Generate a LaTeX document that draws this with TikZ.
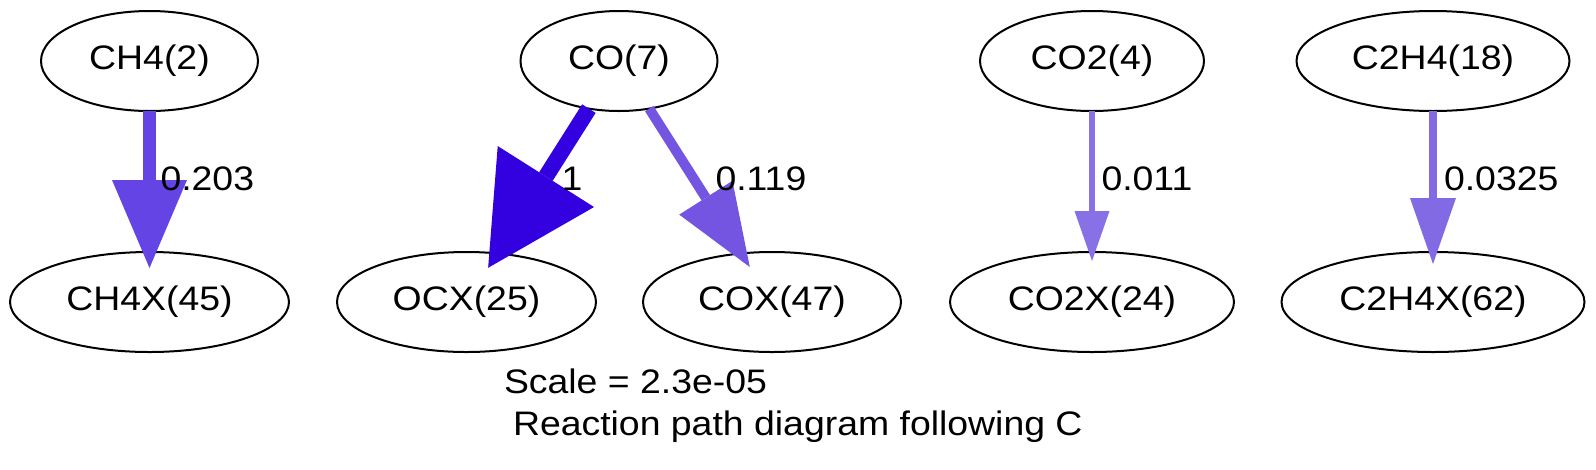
\documentclass[tikz,border=0pt]{standalone}
\usepackage{fontspec}
\setmainfont[FakeStretch=1.1]{Liberation Sans}
\usetikzlibrary{shapes.geometric,arrows.meta}
\definecolor{cch}{HTML}{6444E5}
\definecolor{cocx}{HTML}{3300E0}
\definecolor{ccox}{HTML}{7355E2}
\definecolor{cco2}{HTML}{8870E6}
\definecolor{cc2h}{HTML}{836AE5}
\begin{document}
\begin{tikzpicture}[x=0.75pt,y=-0.75pt,
  species/.style={ellipse,draw=black,line width=1.5pt,inner sep=0pt,outer sep=0pt,
    minimum height=75pt,font=\fontsize{25.5}{30}\selectfont},
  flux/.style={line cap=butt},
  lbl/.style={anchor=base west,inner sep=0pt,outer sep=0pt,font=\fontsize{25.5}{30}\selectfont}]
\useasboundingbox (0,0) rectangle (1596,469);
% species
\node[species,minimum width=162.75pt] (ch4)   at (149.5,61) {CH4(2)};
\node[species,minimum width=209.25pt] (ch4x)  at (149.5,302) {CH4X(45)};
\node[species,minimum width=147.75pt] (co)    at (619,61) {CO(7)};
\node[species,minimum width=194.25pt] (ocx)   at (466.5,302) {OCX(25)};
\node[species,minimum width=193.5pt]  (cox)   at (772,302) {COX(47)};
\node[species,minimum width=168pt]    (co2)   at (1092,61) {CO2(4)};
\node[species,minimum width=213pt]    (co2x)  at (1092,302) {CO2X(24)};
\node[species,minimum width=204.75pt] (c2h4)  at (1433,61) {C2H4(18)};
\node[species,minimum width=227.25pt] (c2h4x) at (1433,302) {C2H4X(62)};
% fluxes
\draw[flux,draw=cch,line width=9.75pt,shorten >=-12pt,
  -{Triangle[length=66pt,width=56.25pt,line width=0pt,fill=cch]}] (ch4) -- (ch4x);
\draw[flux,draw=cocx,line width=12pt,shorten >=-12.75pt,
  -{Triangle[length=81pt,width=85.5pt,line width=0pt,fill=cocx]}] (co) -- (ocx);
\draw[flux,draw=ccox,line width=7.5pt,shorten >=-12pt,
  -{Triangle[length=61.5pt,width=47.25pt,line width=0pt,fill=ccox]}] (co) -- (cox);
\draw[flux,draw=cco2,line width=4.5pt,shorten >=-6.75pt,
  -{Triangle[length=37.5pt,width=26.25pt,line width=0pt,fill=cco2]}] (co2) -- (co2x);
\draw[flux,draw=cc2h,line width=6.375pt,shorten >=-9pt,
  -{Triangle[length=49.5pt,width=34.5pt,line width=0pt,fill=cc2h]}] (c2h4) -- (c2h4x);
% labels
\node[lbl] (l1) at (160.5,190.7) {0.203};
\node[lbl] (l2) at (561.5,190.7) {1};
\node[lbl] (l3) at (715.5,190.7) {0.119};
\node[lbl] (l4) at (1101.5,190.7) {0.011};
\node[lbl] (l5) at (1444,190.7) {0.0325};
\node[lbl] (t1) at (504,393) {Scale = 2.3e-05};
\node[lbl] (t2) at (513,435) {Reaction path diagram following C};
\end{tikzpicture}
\end{document}
